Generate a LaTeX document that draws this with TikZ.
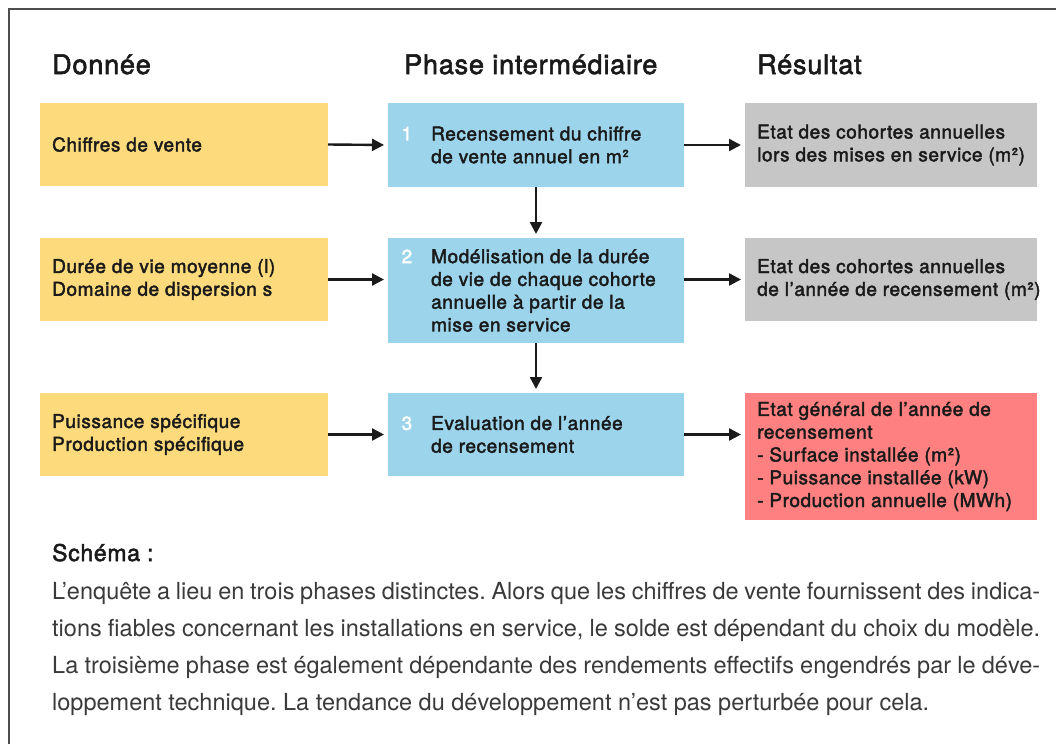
\documentclass[tikz,border=0pt]{standalone}
\usepackage{fontspec}
\setmainfont{TeX Gyre Heros}
\newfontfamily\medfont[FakeBold=2.2,LetterSpace=3]{TeX Gyre Heros}
\usetikzlibrary{arrows.meta}
\definecolor{cyellow}{HTML}{FDDB7C}
\definecolor{cblue}{HTML}{9CD4EC}
\definecolor{cgray}{HTML}{C6C6C6}
\definecolor{cred}{HTML}{FF8080}
\definecolor{ctext}{HTML}{1A1A1A}
\definecolor{cbody}{HTML}{3A3A3A}
\definecolor{cframe}{HTML}{4D4D4D}
\newcommand{\stepnum}[1]{\llap{\textcolor{white}{#1}\hspace{19pt}}}
\frenchspacing
\begin{document}
\begin{tikzpicture}[x=1pt,y=-1pt,
  box/.style={rectangle, inner sep=0pt, outer sep=0pt, anchor=north west},
  boxtext/.style={inner sep=0pt, anchor=west, align=left, text=ctext,
    font=\medfont\fontsize{19}{22.8}\selectfont},
  header/.style={inner sep=0pt, anchor=base west, text=ctext,
    font=\medfont\fontsize{27}{30}\selectfont},
  bodyline/.style={inner sep=0pt, anchor=base west, text=cbody,
    font=\fontsize{23.5}{26}\selectfont},
  arr/.style={-{Triangle[length=12pt,width=12pt]}, line width=2.4pt, draw=ctext, shorten >=4pt}]
\useasboundingbox (0,0) rectangle (1056,744);
\fill[white] (0,0) rectangle (1056,744);
\draw[cframe, line width=1.3pt] (9,744) -- (9,9) -- (1056,9);

% headers
\node[header] (h1) at (52,74) {Donnée};
\node[header] (h2) at (404,74) {Phase intermédiaire};
\node[header] (h3) at (757,74) {Résultat};

% boxes
\node[box, fill=cyellow, minimum width=288pt, minimum height=83pt] (y1) at (40,103) {};
\node[box, fill=cyellow, minimum width=288pt, minimum height=83pt] (y2) at (40,238) {};
\node[box, fill=cyellow, minimum width=288pt, minimum height=83pt] (y3) at (40,393) {};
\node[box, fill=cblue, minimum width=296pt, minimum height=84pt] (b1) at (388,103) {};
\node[box, fill=cblue, minimum width=296pt, minimum height=105pt] (b2) at (388,238) {};
\node[box, fill=cblue, minimum width=296pt, minimum height=83pt] (b3) at (388,393) {};
\node[box, fill=cgray, minimum width=292pt, minimum height=84pt] (g1) at (745,103) {};
\node[box, fill=cgray, minimum width=292pt, minimum height=83pt] (g2) at (745,238) {};
\node[box, fill=cred, minimum width=292pt, minimum height=127pt] (r3) at (745,393) {};

% texts
\node[boxtext] (ty1) at ([xshift=12pt]y1.west) {Chiffres de vente};
\node[boxtext] (ty2) at ([xshift=12pt]y2.west) {Durée de vie moyenne (l)\\Domaine de dispersion s};
\node[boxtext] (ty3) at ([xshift=12pt]y3.west) {Puissance spécifique\\Production spécifique};
\node[boxtext] (tb1) at ([xshift=43pt]b1.west) {\stepnum{1}Recensement du chiffre\\de vente annuel en m²};
\node[boxtext] (tb2) at ([xshift=43pt]b2.west) {\stepnum{2}Modélisation de la durée\\de vie de chaque cohorte\\annuelle à partir de la\\mise en service};
\node[boxtext] (tb3) at ([xshift=43pt]b3.west) {\stepnum{3}Evaluation de l’année\\de recensement};
\node[boxtext] (tg1) at ([xshift=12pt]g1.west) {Etat des cohortes annuelles\\lors des mises en service (m²)};
\node[boxtext] (tg2) at ([xshift=12pt]g2.west) {Etat des cohortes annuelles\\de l’année de recensement (m²)};
\node[boxtext] (tr3) at ([xshift=12pt]r3.west) {Etat général de l’année de\\recensement\\- Surface installée (m²)\\- Puissance installée (kW)\\- Production annuelle (MWh)};

% arrows
\draw[arr] (y1.east) -- (b1.west);
\draw[arr] (y2.east) -- (y2.east -| b2.west);
\draw[arr] (y3.east) -- (b3.west);
\draw[arr] (b1.east) -- (g1.west);
\draw[arr] (b2.east |- g2.west) -- (g2.west);
\draw[arr] (b3.east) -- (b3.east -| r3.west);
\draw[arr] (b1.south) -- (b2.north);
\draw[arr] (b2.south) -- (b3.north);

% caption
\node[inner sep=0pt, anchor=base west, text=ctext, font=\medfont\fontsize{23}{26}\selectfont] (sch) at (52,561) {Schéma :};
\node[bodyline] (l1) at (52,599) {\makebox[988pt][s]{L’enquête a lieu en trois phases distinctes. Alors que les chiffres de vente fournissent des indica-}};
\node[bodyline] (l2) at (52,636) {\makebox[988pt][s]{tions fiables concernant les installations en service, le solde est dépendant du choix du modèle.}};
\node[bodyline] (l3) at (52,673) {\makebox[988pt][s]{La troisième phase est également dépendante des rendements effectifs engendrés par le déve-}};
\node[bodyline] (l4) at (52,710) {loppement technique. La tendance du développement n’est pas perturbée pour cela.};
\end{tikzpicture}
\end{document}
